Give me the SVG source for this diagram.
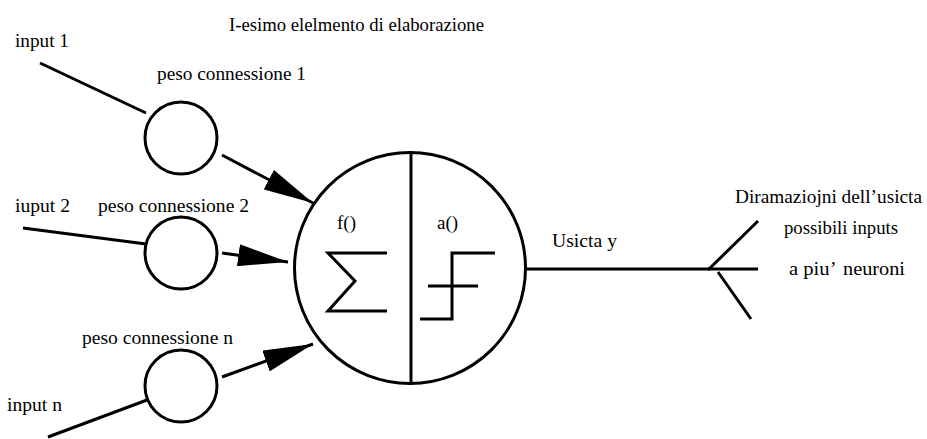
<svg xmlns="http://www.w3.org/2000/svg" width="927" height="439" viewBox="0 0 927 439">
<style>
.ln{stroke:#000;stroke-width:3;fill:none}
.nd{stroke:#000;stroke-width:3;fill:#fff}
text{font-family:"Liberation Serif","Times New Roman",serif;font-size:19px;fill:#000}
</style>
<defs>
<marker id="ah" markerUnits="userSpaceOnUse" markerWidth="50" markerHeight="22" refX="50" refY="11" orient="auto" viewBox="0 0 50 22">
<path d="M0,0 L50,11 L0,22 z" fill="#000"/>
</marker>
</defs>
<rect width="927" height="439" fill="#fff"/>
<text x="229" y="31" textLength="255" lengthAdjust="spacingAndGlyphs">I-esimo elelmento di elaborazione</text>
<g id="connectors">
<line class="ln" x1="40" y1="63" x2="146" y2="113"/>
<line class="ln" x1="23" y1="228" x2="146" y2="244"/>
<line class="ln" x1="48" y1="437" x2="147" y2="400"/>
<line class="ln" x1="222" y1="155" x2="313" y2="203" marker-end="url(#ah)"/>
<line class="ln" x1="222" y1="253" x2="288" y2="262" marker-end="url(#ah)"/>
<line class="ln" x1="222" y1="377" x2="313" y2="344" marker-end="url(#ah)"/>
<line class="ln" x1="527" y1="269" x2="709" y2="269"/>
<line class="ln" x1="708" y1="270" x2="758" y2="221"/>
<line class="ln" x1="708" y1="269" x2="758" y2="269"/>
<line class="ln" x1="718" y1="272" x2="751" y2="319"/>
</g>
<g id="input1"><text x="15" y="47" textLength="54" lengthAdjust="spacingAndGlyphs">input 1</text></g>
<g id="input2"><text x="15" y="212" textLength="55" lengthAdjust="spacingAndGlyphs">iuput 2</text></g>
<g id="inputn"><text x="7" y="411" textLength="55" lengthAdjust="spacingAndGlyphs">input n</text></g>
<g id="peso1">
<circle class="nd" cx="181" cy="138" r="36"/>
<text x="157" y="80" textLength="149" lengthAdjust="spacingAndGlyphs">peso connessione 1</text>
</g>
<g id="peso2">
<circle class="nd" cx="181" cy="253" r="36"/>
<text x="98" y="212" textLength="151" lengthAdjust="spacingAndGlyphs">peso connessione 2</text>
</g>
<g id="peson">
<circle class="nd" cx="181" cy="386" r="36"/>
<text x="82" y="344" textLength="151" lengthAdjust="spacingAndGlyphs">peso connessione n</text>
</g>
<g id="neuron">
<circle class="ln" cx="410" cy="268" r="115.5"/>
<line class="ln" x1="411" y1="153" x2="411" y2="384"/>
<text x="337" y="229">f()</text>
<text x="437" y="229">a()</text>
<path class="ln" d="M387,253 L328,253 L355,281 L328,311 L387,311"/>
<path class="ln" d="M420,319 L452,319 L452,253 L495,253"/>
<line class="ln" x1="428" y1="286" x2="478" y2="286"/>
</g>
<g id="output">
<text x="552" y="247" textLength="65" lengthAdjust="spacingAndGlyphs">Usicta y</text>
<text x="735" y="203" textLength="187" lengthAdjust="spacingAndGlyphs">Diramaziojni dell’usicta</text>
<text x="784" y="234" textLength="114" lengthAdjust="spacingAndGlyphs">possibili inputs</text>
<text y="275"><tspan x="789" textLength="46" lengthAdjust="spacingAndGlyphs">a piu’</tspan> <tspan x="843" textLength="62" lengthAdjust="spacingAndGlyphs">neuroni</tspan></text>
</g>
</svg>
